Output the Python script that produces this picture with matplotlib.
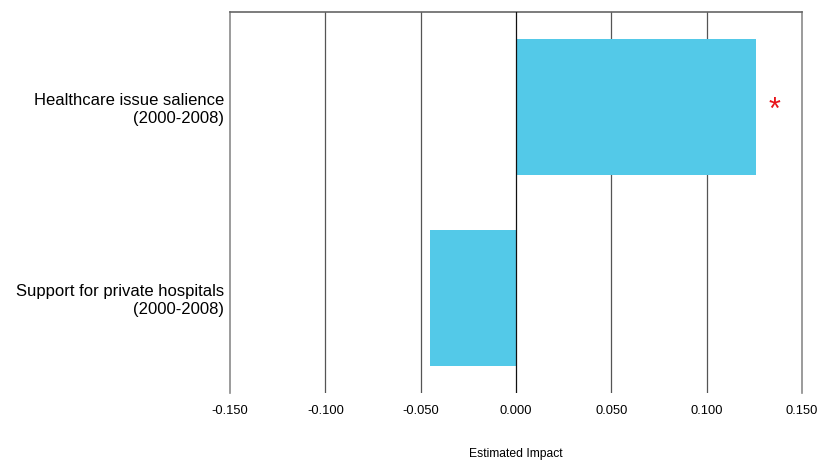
import matplotlib
matplotlib.use("Agg")
import matplotlib.pyplot as plt

categories = ["Healthcare issue salience\n(2000-2008)", "Support for private hospitals\n(2000-2008)"]
values = [0.126, -0.045]
significant = [True, False]
xticks = [-0.150, -0.100, -0.050, 0.000, 0.050, 0.100, 0.150]
xtick_labels = ["-0.150", "-0.100", "-0.050", "0.000", "0.050", "0.100", "0.150"]

plt.rcParams['font.family'] = ['Liberation Sans', 'DejaVu Sans']

fig = plt.figure(figsize=(8.17, 4.61), dpi=100)
ax = fig.add_axes([230/817, 1-393/461, 572/817, 381.5/461])

ypos = [1, 0]
ax.barh(ypos, values, height=0.712, color='#53C9E8', zorder=2)

for x in xticks:
    if x == 0:
        ax.axvline(x, color='#111111', lw=0.9, zorder=3)
    elif abs(x) == 0.15:
        ax.axvline(x, color='#8a8a8a', lw=1.2, zorder=1, clip_on=False)
    else:
        ax.axvline(x, color='#555555', lw=0.9, zorder=1)

for y, v, s in zip(ypos, values, significant):
    if s:
        ax.annotate('*', xy=(v, y), xytext=(13, -3), textcoords='offset points',
                    color='#e8141a', fontsize=22, ha='center', va='center')

ax.set_xlim(-0.15, 0.15)
ax.set_ylim(-0.5, 1.5)
ax.set_xticks(xticks)
ax.set_xticklabels(xtick_labels, fontsize=9.3)
ax.set_yticks(ypos)
ax.set_yticklabels(categories, fontsize=12, ha='right', multialignment='right')
ax.tick_params(axis='both', length=0)
ax.tick_params(axis='x', pad=9)
ax.tick_params(axis='y', pad=4)
ax.set_xlabel("Estimated Impact", fontsize=8.7, labelpad=22)

for side in ['left', 'right', 'bottom']:
    ax.spines[side].set_visible(False)
ax.spines['top'].set_color('#666666')
ax.spines['top'].set_linewidth(1.2)

fig.savefig("out.png", dpi=100)
